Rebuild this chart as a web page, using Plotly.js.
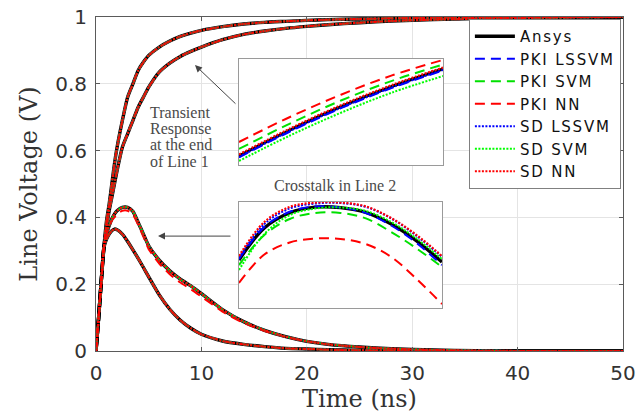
<!DOCTYPE html>
<html>
<head>
<meta charset="utf-8">
<script src="https://cdn.plot.ly/plotly-3.0.1.min.js"></script>
<style>html,body{margin:0;padding:0;background:#fff;}#chart{width:642px;height:413px;}
.legendtext{letter-spacing:1.8px;}
</style>
</head>
<body>
<div id="chart"></div>
<script>
// ---- Main plot data (time in ns, voltage in V) ----
const timeNs = [0,0.25,0.5,0.75,1,1.25,1.5,1.75,2,2.5,3,3.5,4,4.5,5,6,7,8,9,10,12,14,16,18,20,22,25,28,32,36,40,45,50];
// Transient response at end of Line 1 (two responses)
const transientFast = [0,0.10,0.21,0.31,0.39,0.44,0.50,0.56,0.61,0.69,0.76,0.80,0.84,0.865,0.885,0.91,0.928,0.942,0.952,0.96,0.971,0.979,0.984,0.987,0.99,0.992,0.994,0.996,0.998,0.999,1,1,1];
const transientSlow = [0,0.10,0.21,0.31,0.37,0.42,0.46,0.50,0.54,0.61,0.65,0.69,0.73,0.76,0.79,0.835,0.862,0.882,0.897,0.91,0.932,0.948,0.958,0.966,0.972,0.977,0.983,0.988,0.992,0.995,0.997,0.999,1];
// Crosstalk in Line 2 (two responses)
const crosstalkHigh = [0,0.10,0.21,0.31,0.35,0.375,0.395,0.41,0.42,0.43,0.43,0.418,0.385,0.35,0.315,0.272,0.24,0.215,0.195,0.172,0.124,0.088,0.062,0.043,0.029,0.02,0.012,0.007,0.003,0.001,0,0,0];
const crosstalkLow = [0,0.10,0.21,0.31,0.335,0.35,0.36,0.365,0.363,0.35,0.328,0.303,0.277,0.25,0.222,0.168,0.125,0.092,0.068,0.05,0.03,0.02,0.013,0.008,0.006,0.004,0.002,0.001,0,0,0,0,0];
const crosstalkHighPKINN = [0,0.10,0.21,0.31,0.35,0.37,0.39,0.40,0.41,0.42,0.42,0.408,0.378,0.342,0.305,0.262,0.23,0.205,0.185,0.163,0.118,0.084,0.06,0.042,0.029,0.02,0.012,0.007,0.003,0.001,0,0,0];

// ---- Inset 1: zoom of transient response ----
const inset1Time = [5,5.5,6,6.5,7];
const inset1Ansys    = [0.8085,0.8330,0.8550,0.8741,0.8906];
const inset1PKILSSVM = [0.8071,0.8316,0.8536,0.8727,0.8891];
const inset1PKISVM   = [0.8151,0.8391,0.8608,0.8794,0.8948];
const inset1PKINN    = [0.8217,0.8453,0.8663,0.8845,0.8991];
const inset1SDLSSVM  = [0.8075,0.8321,0.8540,0.8732,0.8896];
const inset1SDSVM    = [0.8038,0.8278,0.8493,0.8683,0.8839];
const inset1SDNN     = [0.8099,0.8344,0.8564,0.8755,0.8919];

// ---- Inset 2: zoom of crosstalk peak ----
const inset2Time = [2.0,2.2,2.4,2.6,2.8,3.0,3.2,3.4,3.6];
const inset2Ansys    = [0.4072,0.4253,0.4339,0.4371,0.4368,0.4341,0.4275,0.4180,0.4060];
const inset2PKILSSVM = [0.4077,0.4258,0.4345,0.4375,0.4369,0.4338,0.4267,0.4168,0.4043];
const inset2PKISVM   = [0.4043,0.4213,0.4304,0.4338,0.4338,0.4307,0.4230,0.4137,0.4032];
const inset2PKINN    = [0.3942,0.4103,0.4171,0.4193,0.4191,0.4162,0.4089,0.3964,0.3823];
const inset2SDLSSVM  = [0.4083,0.4275,0.4363,0.4391,0.4394,0.4372,0.4307,0.4208,0.4089];
const inset2SDSVM    = [0.4015,0.4219,0.4326,0.4363,0.4369,0.4349,0.4287,0.4193,0.4077];
const inset2SDNN     = [0.4094,0.4287,0.4372,0.4397,0.4397,0.4375,0.4309,0.4213,0.4094];

const methodNames = ['Ansys','PKI LSSVM','PKI SVM','PKI NN','SD LSSVM','SD SVM','SD NN'];
const inset1Series = [inset1Ansys,inset1PKILSSVM,inset1PKISVM,inset1PKINN,inset1SDLSSVM,inset1SDSVM,inset1SDNN];
const inset2Series = [inset2Ansys,inset2PKILSSVM,inset2PKISVM,inset2PKINN,inset2SDLSSVM,inset2SDSVM,inset2SDNN];

const lineStyles = [
  {color:'#000000', width:3.4, dash:'solid'},
  {color:'#0000ff', width:2, dash:'10px,6px'},
  {color:'#00e000', width:2, dash:'10px,6px'},
  {color:'#ff0000', width:2, dash:'10px,6px'},
  {color:'#0000ff', width:2, dash:'2px,1.5px'},
  {color:'#00ff00', width:2, dash:'2px,1.5px'},
  {color:'#ff0000', width:2.2, dash:'2px,1.5px'}
];

function joinCurves(curves){
  const xs=[], ys=[];
  curves.forEach((c,i)=>{
    if(i>0){xs.push(null); ys.push(null);}
    timeNs.forEach((tv,j)=>{xs.push(tv); ys.push(c[j]);});
  });
  return {xs, ys};
}

const traces = [];
methodNames.forEach((name,i)=>{
  const curves = name==='PKI NN'
    ? [transientFast, transientSlow, crosstalkHighPKINN, crosstalkLow]
    : [transientFast, transientSlow, crosstalkHigh, crosstalkLow];
  const j = joinCurves(curves);
  traces.push({x:j.xs, y:j.ys, type:'scatter', mode:'lines', name:name,
    line:Object.assign({}, lineStyles[i], {shape:'spline', smoothing:0.6}), connectgaps:false, xaxis:'x', yaxis:'y', legendgroup:name});
});
methodNames.forEach((name,i)=>{
  const st = Object.assign({}, lineStyles[i], {shape:'spline'});
  if(i===0) st.width = 3;
  traces.push({x:inset1Time, y:inset1Series[i], type:'scatter', mode:'lines', name:name,
    line:st, xaxis:'x2', yaxis:'y2', showlegend:false, legendgroup:name});
});
methodNames.forEach((name,i)=>{
  const st = Object.assign({}, lineStyles[i], {shape:'spline'});
  traces.push({x:inset2Time, y:inset2Series[i], type:'scatter', mode:'lines', name:name,
    line:st, xaxis:'x3', yaxis:'y3', showlegend:false, legendgroup:name});
});

const axisLine = '#5a5a5a';
const tickFont = {family:'DejaVu Sans', size:20, color:'#333'};
const titleFont = {family:'DejaVu Serif', size:24, color:'#333'};
const insetAxis = {showgrid:false, showticklabels:false, ticks:'', showline:true, mirror:true,
  linecolor:'#9a9a9a', linewidth:1.2, zeroline:false, fixedrange:true};

const annFont = {family:'Liberation Serif', size:16, color:'#4a4a4a'};
const layout = {
  width:642, height:413,
  margin:{l:96, r:19, t:17, b:62},
  paper_bgcolor:'#ffffff', plot_bgcolor:'#ffffff',
  showlegend:true,
  xaxis:{range:[0,50], tickvals:[0,10,20,30,40,50], showgrid:true, gridcolor:'#e4e4e4',
    showline:true, linecolor:axisLine, linewidth:1, mirror:'ticks', ticks:'inside', ticklen:4,
    tickcolor:axisLine, zeroline:false, tickfont:tickFont, ticklabelstandoff:4,
    title:{text:'Time (ns)', font:titleFont, standoff:2}},
  yaxis:{range:[0,1], tickvals:[0,0.2,0.4,0.6,0.8,1], showgrid:true, gridcolor:'#e4e4e4',
    showline:true, linecolor:axisLine, linewidth:1, mirror:'ticks', ticks:'inside', ticklen:4,
    tickcolor:axisLine, zeroline:false, tickfont:tickFont, ticklabelstandoff:4,
    title:{text:'Line Voltage (V)', font:titleFont, standoff:10}},
  xaxis2:Object.assign({domain:[0.2713,0.6584], anchor:'y2', range:[5,7]}, insetAxis),
  yaxis2:Object.assign({domain:[0.5569,0.8743], anchor:'x2', range:[0.8,0.9]}, insetAxis),
  xaxis3:Object.assign({domain:[0.2713,0.6565], anchor:'y3', range:[2.0,3.6]}, insetAxis),
  yaxis3:Object.assign({domain:[0.1287,0.4461], anchor:'x3', range:[0.38,0.44]}, insetAxis),
  legend:{x:0.996, y:0.994, xanchor:'right', yanchor:'top', bgcolor:'#ffffff',
    bordercolor:'#808080', borderwidth:1, font:{family:'DejaVu Sans', size:15, color:'#111'},
    tracegroupgap:0, itemwidth:40},
  annotations:[
    {xref:'x', yref:'y', x:4.9, y:0.7126, text:'Transient', showarrow:false, xanchor:'left', yanchor:'middle', font:annFont},
    {xref:'x', yref:'y', x:4.9, y:0.6647, text:'Response', showarrow:false, xanchor:'left', yanchor:'middle', font:annFont},
    {xref:'x', yref:'y', x:4.9, y:0.6168, text:'at the end', showarrow:false, xanchor:'left', yanchor:'middle', font:annFont},
    {xref:'x', yref:'y', x:4.9, y:0.5659, text:'of Line 1', showarrow:false, xanchor:'left', yanchor:'middle', font:annFont},
    {xref:'x', yref:'y', x:22.68, y:0.497, text:'Crosstalk in Line 2', showarrow:false, xanchor:'center', yanchor:'middle', font:annFont},
    {xref:'x', yref:'y', x:9.39, y:0.856, text:'', showarrow:true, ax:42, ay:40, arrowhead:2, arrowsize:1.4, arrowwidth:1, arrowcolor:'#444', standoff:0},
    {xref:'x', yref:'y', x:5.88, y:0.344, text:'', showarrow:true, ax:74, ay:0, arrowhead:2, arrowsize:1.4, arrowwidth:1, arrowcolor:'#444', standoff:0}
  ]
};

Plotly.newPlot('chart', traces, layout, {displayModeBar:false, staticPlot:true});
</script>
</body>
</html>
